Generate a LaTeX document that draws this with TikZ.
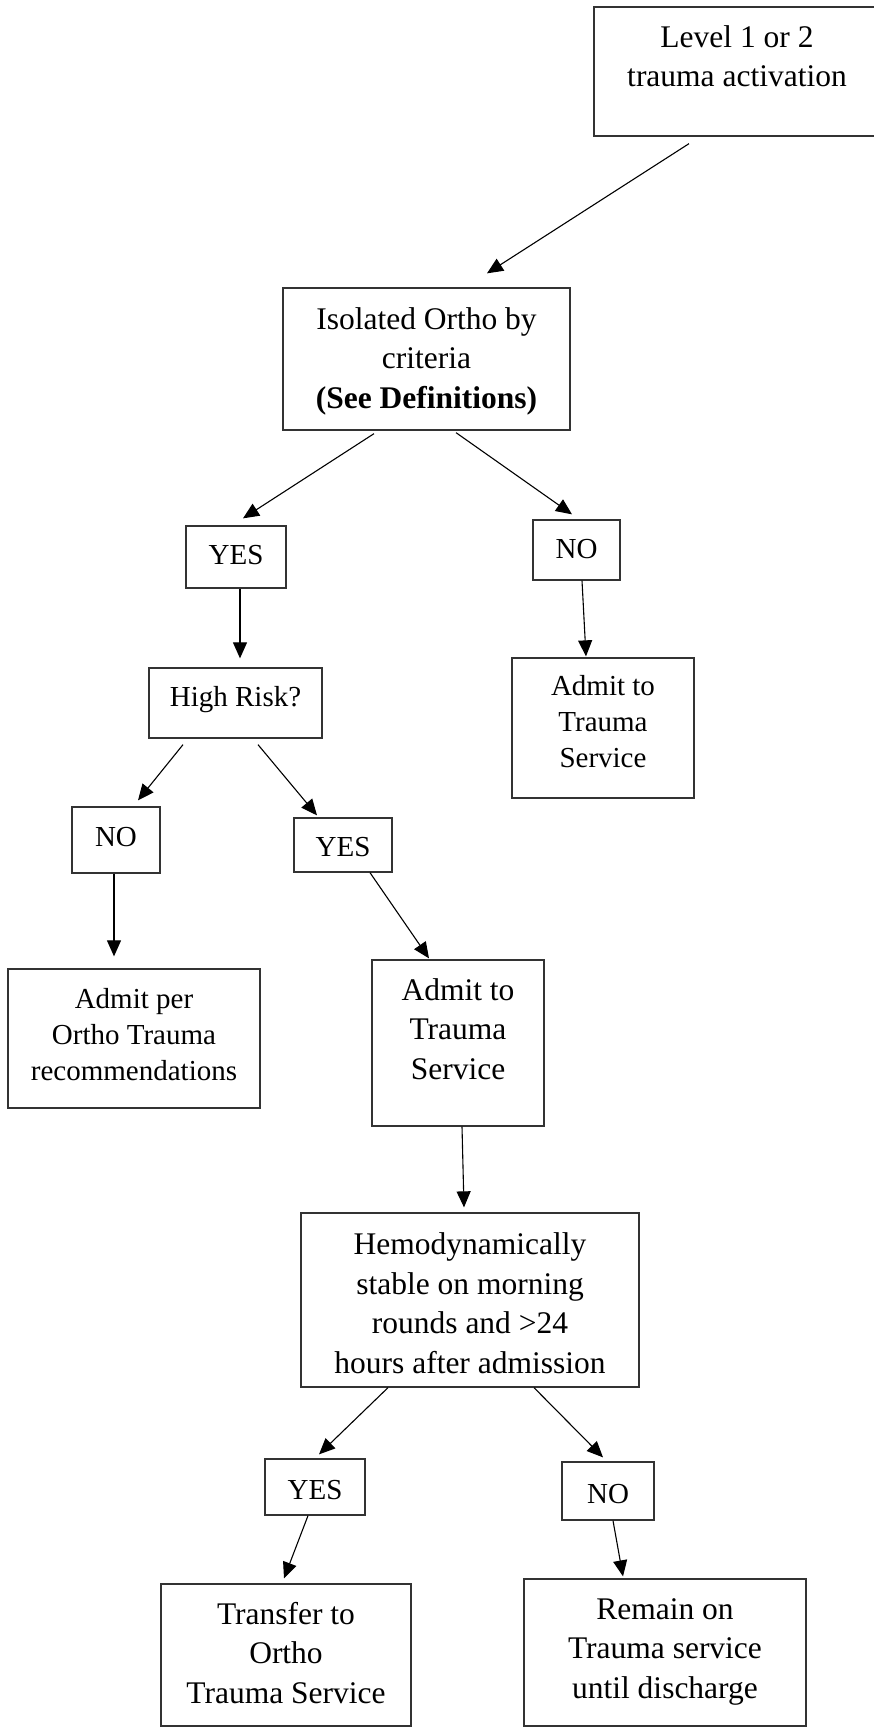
\documentclass[tikz,border=0pt]{standalone}
\usepackage{fontspec}
\setmainfont{Liberation Serif}
\usetikzlibrary{arrows.meta}

\newcommand{\bigtxt}{\fontsize{31.5}{39.5}\selectfont}
\newcommand{\midtxt}{\fontsize{29}{36}\selectfont}

\tikzset{
  box/.style={draw=black!80, line width=1.3pt, align=center, inner sep=0pt},
  arr/.style={line width=1.1pt, -{Triangle[length=16pt,width=14pt]}}
}

\begin{document}
\begin{tikzpicture}[x=1pt,y=-1pt]
\path[use as bounding box, fill=white] (0,0) rectangle (874,1728);

% Boxes
\node[box, font=\bigtxt, minimum width=286pt, text height=80pt, text depth=49pt] (lvl) at (737,71.5) {Level 1 or 2\\trauma activation};
\node[box, font=\bigtxt, minimum width=287pt, text height=120pt, text depth=22pt] (iso) at (426.5,359) {Isolated Ortho by\\criteria\\\textbf{(See Definitions)}};
\node[box, font=\midtxt, minimum width=100pt, text height=38pt, text depth=24pt] (yesa) at (236,557) {YES};
\node[box, font=\midtxt, minimum width=87pt, text height=38pt, text depth=22pt] (noa) at (576.5,550) {NO};
\node[box, font=\midtxt, minimum width=182pt, text height=109pt, text depth=31pt] (admita) at (603,728) {Admit to\\Trauma\\Service};
\node[box, font=\midtxt, minimum width=173pt, text height=38pt, text depth=32pt] (risk) at (235.5,703) {High Risk?};
\node[box, font=\midtxt, minimum width=88pt, text height=39pt, text depth=27pt] (nob) at (116,840) {NO};
\node[box, font=\midtxt, minimum width=98pt, text height=38pt, text depth=16pt] (yesb) at (343,845) {YES};
\node[box, font=\midtxt, minimum width=252pt, text height=111pt, text depth=28pt] (perortho) at (134,1038.5) {Admit per\\Ortho Trauma\\recommendations};
\node[box, font=\bigtxt, minimum width=172pt, text height=119pt, text depth=47pt] (admitb) at (458,1043) {Admit to\\Trauma\\Service};
\node[box, font=\bigtxt, minimum width=338pt, text height=160pt, text depth=14pt] (hemo) at (470,1300) {Hemodynamically\\stable on morning\\rounds and >24\\hours after admission};
\node[box, font=\midtxt, minimum width=100pt, text height=40pt, text depth=16pt] (yesc) at (315,1487) {YES};
\node[box, font=\midtxt, minimum width=92pt, text height=41pt, text depth=17pt] (noc) at (608,1491) {NO};
\node[box, font=\bigtxt, minimum width=250pt, text height=119pt, text depth=23pt] (transfer) at (286,1655) {Transfer to\\Ortho\\Trauma Service};
\node[box, font=\bigtxt, minimum width=282pt, text height=119pt, text depth=28pt] (remain) at (665,1652.5) {Remain on\\Trauma service\\until discharge};

% Arrows
\draw[arr] ([shift={(-48,7)}]lvl.south) -- ([shift={(60.5,-14)}]iso.north);
\draw[arr] ([shift={(-52.5,3)}]iso.south) -- ([shift={(7,-7)}]yesa.north);
\draw[arr] ([shift={(29.5,2)}]iso.south) -- ([shift={(-4.5,-5)}]noa.north);
\draw[arr] ([shift={(4,0)}]yesa.south) -- ([shift={(4.5,-9)}]risk.north);
\draw[arr] ([shift={(5.5,0)}]noa.south) -- ([shift={(-17,-1)}]admita.north);
\draw[arr] ([shift={(-52.5,6)}]risk.south) -- ([shift={(22,-6)}]nob.north);
\draw[arr] ([shift={(22.5,6)}]risk.south) -- ([shift={(-26,-2)}]yesb.north);
\draw[arr] ([shift={(-2,0)}]nob.south) -- ([shift={(-20,-12)}]perortho.north);
\draw[arr] ([shift={(27,0)}]yesb.south) -- ([shift={(-29,-1)}]admitb.north);
\draw[arr] ([shift={(4,0)}]admitb.south) -- ([shift={(-6,-5)}]hemo.north);
\draw[arr] ([shift={(-82,0)}]hemo.south) -- ([shift={(4,-4)}]yesc.north);
\draw[arr] ([shift={(64,0)}]hemo.south) -- ([shift={(-5,-4)}]noc.north);
\draw[arr] ([shift={(-7,0)}]yesc.south) -- ([shift={(-2,-5)}]transfer.north);
\draw[arr] ([shift={(5,0)}]noc.south) -- ([shift={(-42,-2)}]remain.north);

\end{tikzpicture}
\end{document}
